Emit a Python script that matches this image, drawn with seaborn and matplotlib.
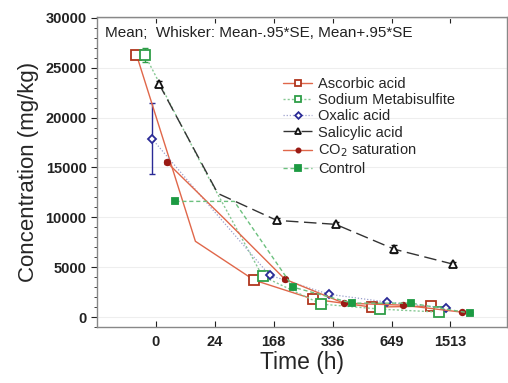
import numpy as np
import pandas as pd
import matplotlib
matplotlib.use("Agg")
import matplotlib.pyplot as plt
import seaborn as sns
from matplotlib.ticker import MultipleLocator

# ==========================================
# Data
# ==========================================
time_labels = ["0", "24", "168", "336", "649", "1513"]

ascorbic = [26300, 7600, 3700, 1800, 1000, 1100]
sodium = [26300, 14900, 4100, 1300, 800, 500]
oxalic = [17900, 11000, 4200, 2300, 1500, 900]
salicylic = [23400, 12400, 9700, 9300, 6800, 5300]
co2 = [15500, 9700, 3800, 1400, 1200, 500]
control = [11600, 11600, 3000, 1400, 1400, 400]

# whisker half widths (.95*SE)
ascorbic_err = [250, 0, 200, 150, 100, 100]
sodium_err = [700, 0, 200, 100, 100, 100]
oxalic_err = [3600, 0, 150, 150, 100, 100]
salicylic_err = [300, 0, 200, 200, 400, 200]
co2_err = [200, 0, 150, 100, 100, 100]
control_err = [200, 0, 150, 100, 100, 100]

series_names = ["Ascorbic acid", "Sodium Metabisulfite", "Oxalic acid",
                "Salicylic acid", "CO$_2$ saturation", "Control"]
series_values = [ascorbic, sodium, oxalic, salicylic, co2, control]
series_errors = [ascorbic_err, sodium_err, oxalic_err, salicylic_err, co2_err, control_err]

# ==========================================
# Style
# ==========================================
sns.set_style("ticks")
plt.rcParams['font.family'] = ['Liberation Sans', 'DejaVu Sans']

styles = [
    dict(offset=-0.33, line="#e0674a", ls="-", lw=1.0, marker="s", ms=6.5, mec="#b0361e", mfc="white"),
    dict(offset=-0.19, line="#86c893", ls=(0, (1.5, 1.5)), lw=1.0, marker="s", ms=6.5, mec="#2f9e48", mfc="white"),
    dict(offset=-0.07, line="#9a9fcc", ls=(0, (1, 1.5)), lw=0.9, marker="D", ms=4.5, mec="#2a2a96", mfc="white"),
    dict(offset=0.05, line="#333333", ls=(0, (9, 4)), lw=1.0, marker="^", ms=5.5, mec="#111111", mfc="white"),
    dict(offset=0.19, line="#e0674a", ls="-", lw=1.0, marker="o", ms=4, mec="#9a1a14", mfc="#9a1a14"),
    dict(offset=0.33, line="#6cc07e", ls=(0, (3, 2)), lw=1.0, marker="s", ms=5, mec="#1c9a42", mfc="#1c9a42"),
]

fig = plt.figure(figsize=(5.08, 3.83), dpi=100)
ax = fig.add_axes([0.191, 0.146, 0.807, 0.81])

pos = np.arange(len(time_labels))
keep = [0, 2, 3, 4, 5]
for name, vals, errs, st in zip(series_names, series_values, series_errors, styles):
    df = pd.DataFrame({"x": pos + st["offset"], "y": vals})
    sns.lineplot(
        data=df, x="x", y="y", ax=ax, estimator=None, sort=False,
        color=st["line"], linestyle=st["ls"], linewidth=st["lw"],
        marker=st["marker"], markersize=st["ms"], markeredgecolor=st["mec"],
        markerfacecolor=st["mfc"], markeredgewidth=1.3,
        markevery=keep, label=name,
    )
    ax.errorbar(df["x"].values[keep], np.array(vals)[keep], yerr=np.array(errs)[keep],
                fmt="none", ecolor=st["mec"], elinewidth=1.0, capsize=2.5, zorder=1)

# ==========================================
# Axes
# ==========================================
ax.set_xlim(-1.0, 5.96)
ax.set_ylim(-1000, 30100)
ax.set_xticks(pos)
ax.set_xticklabels(time_labels)
ax.set_yticks(np.arange(0, 30001, 5000))
ax.yaxis.set_minor_locator(MultipleLocator(1000))
ax.tick_params(axis="y", which="major", direction="out", length=4, labelsize=10.5, colors="#222222")
ax.tick_params(axis="y", which="minor", direction="out", length=2)
ax.tick_params(axis="x", direction="in", length=4, labelsize=10.5, colors="#222222", pad=6)
ax.tick_params(top=True, right=True)
for lab in ax.get_xticklabels() + ax.get_yticklabels():
    lab.set_fontweight("bold")
for sp in ax.spines.values():
    sp.set_color("#888888")
    sp.set_linewidth(1.0)
ax.yaxis.grid(True, color="#eeeeee", linewidth=0.8)

ax.set_xlabel("Time (h)", fontsize=16.5, labelpad=1)
ax.set_ylabel("Concentration (mg/kg)", fontsize=16, labelpad=5)

ax.text(0.02, 0.947, "Mean;  Whisker: Mean-.95*SE, Mean+.95*SE", transform=ax.transAxes,
        fontsize=11, va="center", ha="left", color="#222222")

ax.legend(loc="upper left", bbox_to_anchor=(0.44, 0.825), frameon=False, fontsize=10.5,
          handlelength=2.0, handletextpad=0.4, labelspacing=0.15, borderaxespad=0,
          markerscale=0.75)

plt.savefig("out.png", dpi=100)
